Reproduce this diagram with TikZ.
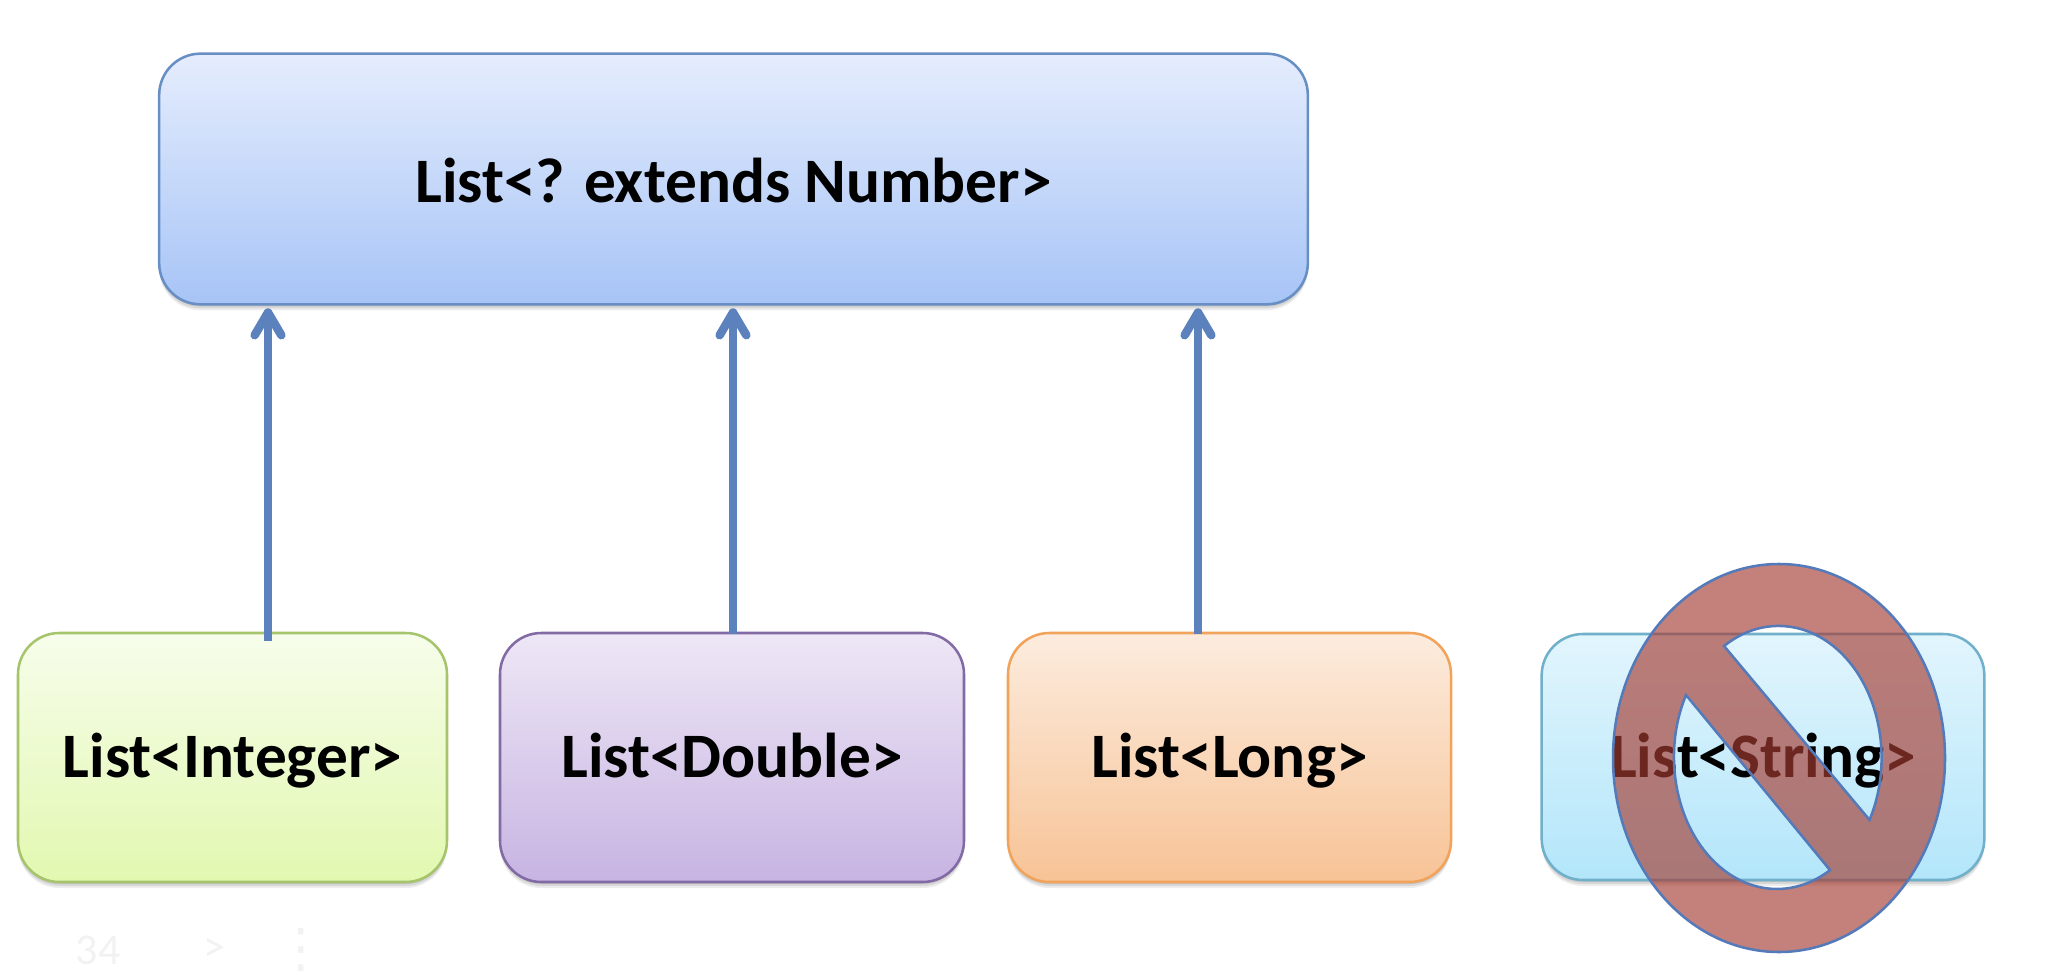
\documentclass[tikz,border=0pt]{standalone}
\usepackage{fontspec}
\setmainfont{Carlito}
\newfontfamily\dotsfont{DejaVu Sans}
\usetikzlibrary{shadows,arrows.meta}

\tikzset{every picture/.style={line width=0.75pt}}
\tikzset{
  softshadow/.style={
    drop shadow={shadow xshift=0pt,shadow yshift=-1.5pt,opacity=0.09,fill=black},
    drop shadow={shadow xshift=0pt,shadow yshift=-3pt,opacity=0.09,fill=black},
    drop shadow={shadow xshift=0pt,shadow yshift=-4.5pt,opacity=0.07,fill=black}},
  listbox/.style={draw,rounded corners=31pt,line width=1.9pt,inner sep=0pt,anchor=center,
    font=\fontsize{47.5}{57}\bfseries,text=black,text height=40pt,text depth=10pt,softshadow},
  subarrow/.style={draw={rgb, 255:red, 92; green, 130; blue, 190 },line width=5.6pt,shorten >=2pt,
    -{Straight Barb[round,length=17pt,width=20pt,line width=6.4pt]}},
  pagetext/.style={text=black!5,font=\fontsize{33}{40}\selectfont},
}

\begin{document}
\begin{tikzpicture}[x=0.75pt,y=0.75pt,yscale=-1,xscale=1]
\useasboundingbox (0,0) rectangle (2066,977);

%Shape: Rounded Rect (top)
\node (listnumber) [listbox,minimum width=861.5pt,minimum height=188pt,text height=46pt,
  draw={rgb, 255:red, 104; green, 143; blue, 196 },
  top color={rgb, 255:red, 229; green, 237; blue, 253 },
  bottom color={rgb, 255:red, 167; green, 196; blue, 246 }] at (733.5,179) {List<? extends Number>};

%Shape: Rounded Rect (bottom row)
\node (listinteger) [listbox,minimum width=321.75pt,minimum height=186.75pt,
  draw={rgb, 255:red, 166; green, 196; blue, 108 },
  top color={rgb, 255:red, 247; green, 253; blue, 235 },
  bottom color={rgb, 255:red, 226; green, 248; blue, 176 }] at (232.5,757.5) {List<Integer>};
\node (listdouble) [listbox,minimum width=348pt,minimum height=186.75pt,
  draw={rgb, 255:red, 130; green, 106; blue, 165 },
  top color={rgb, 255:red, 238; green, 231; blue, 246 },
  bottom color={rgb, 255:red, 199; green, 180; blue, 226 }] at (732,757.5) {List<Double>};
\node (listlong) [listbox,minimum width=332.25pt,minimum height=186.75pt,
  draw={rgb, 255:red, 241; green, 163; blue, 92 },
  top color={rgb, 255:red, 252; green, 236; blue, 222 },
  bottom color={rgb, 255:red, 247; green, 195; blue, 150 }] at (1229.5,757.5) {List<Long>};
\node (liststring) [listbox,minimum width=332pt,minimum height=184.5pt,
  draw={rgb, 255:red, 112; green, 176; blue, 202 },
  top color={rgb, 255:red, 226; green, 245; blue, 253 },
  bottom color={rgb, 255:red, 179; green, 230; blue, 250 }] at (1763,757) {List<String>};

%Straight Lines
\coordinate (footinteger) at (268,641);
\coordinate (footdouble) at (733,634);
\coordinate (footlong) at (1198,634);
\draw [subarrow] (footinteger) -- (footinteger |- listnumber.south);
\draw [subarrow] (footdouble) -- (footdouble |- listnumber.south);
\draw [subarrow] (footlong) -- (footlong |- listnumber.south);

%Shape: No Symbol
\draw [even odd rule,line width=1.9pt,draw={rgb, 255:red, 84; green, 122; blue, 186 },
  fill={rgb, 255:red, 165; green, 60; blue, 50 },fill opacity=0.65]
  (1779,758) ellipse [x radius=166,y radius=194]
  (1724,646) arc [start angle=-122,end angle=28,x radius=103,y radius=132] -- cycle
  (1686,695) arc [start angle=-152,end angle=-301,x radius=103,y radius=132] -- cycle;

% Text Node
\node (pagenum) [pagetext] at (98,950) {34};
\node (pagenext) [pagetext] at (214,950) {>};
\node (pagemenu) [pagetext,font=\fontsize{40}{48}\dotsfont] at (301,950) {⋮};

\end{tikzpicture}
\end{document}
